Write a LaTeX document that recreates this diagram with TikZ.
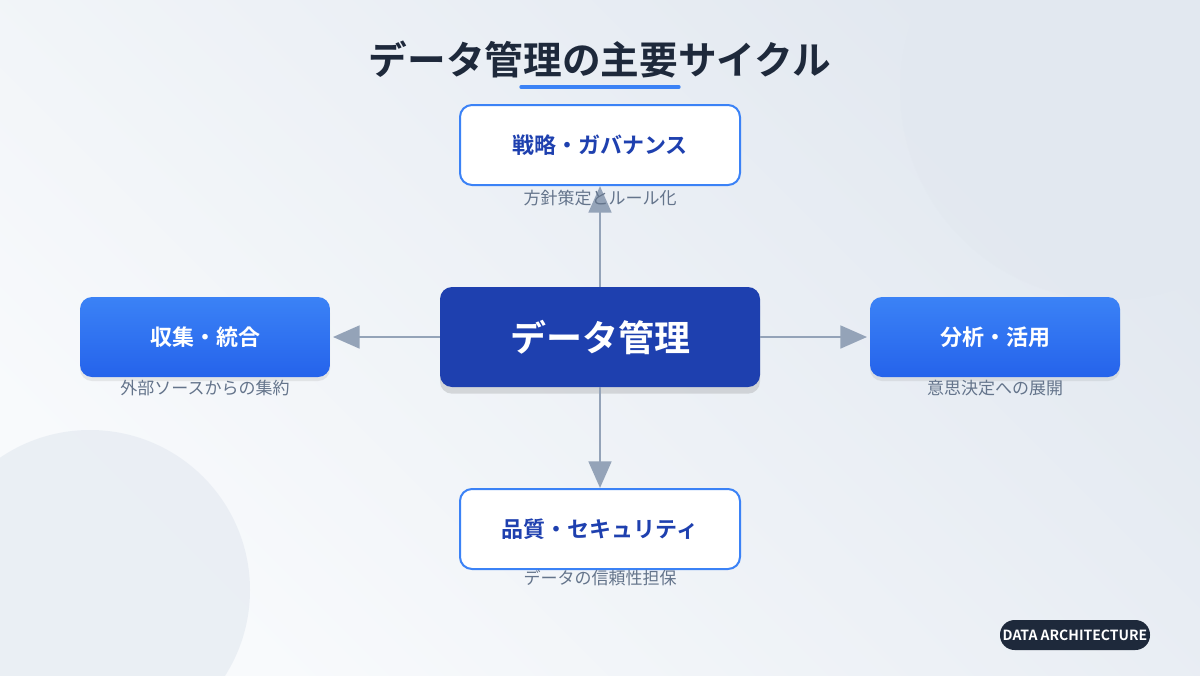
\documentclass[tikz,border=0pt]{standalone}
\usepackage{fontspec}
\setmainfont{Noto Sans CJK JP}
\newfontfamily\jpb{Noto Sans CJK JP Bold}
\usetikzlibrary{arrows.meta,shadows}
\definecolor{bgA}{HTML}{F8FAFC}
\definecolor{bgB}{HTML}{E2E8F0}
\definecolor{darkblue}{HTML}{1E40AF}
\definecolor{midblue}{HTML}{3B82F6}
\definecolor{deepblue}{HTML}{2563EB}
\definecolor{arrowgray}{HTML}{94A3B8}
\definecolor{capgray}{HTML}{64748B}
\definecolor{titlec}{HTML}{1E293B}
\tikzset{
  outerbox/.style={draw=midblue,line width=1.5pt,fill=white,rounded corners=9pt,minimum width=210pt,minimum height=60pt,text=darkblue,font=\jpb\fontsize{16.5}{20}\selectfont},
  sidebox/.style={rounded corners=9pt,top color=midblue,bottom color=deepblue,minimum width=187.5pt,minimum height=60pt,text=white,font=\jpb\fontsize{16.5}{20}\selectfont,drop shadow={opacity=0.15,shadow xshift=0pt,shadow yshift=-3pt}},
  centerbox/.style={rounded corners=9pt,fill=darkblue,minimum width=240pt,minimum height=75pt,text=white,font=\jpb\fontsize{27}{32}\selectfont,drop shadow={opacity=0.25,shadow xshift=0pt,shadow yshift=-5pt}},
  caption/.style={text=capgray,font=\fontsize{12.75}{15}\selectfont},
  conn/.style={draw=arrowgray,line width=2.2pt,-{Triangle[length=20pt,width=17pt]}}
}
\begin{document}
\begin{tikzpicture}[x=0.75pt,y=-0.75pt]
\useasboundingbox (0,0) rectangle (1200,675);
\shade[left color=bgA,right color=bgB,shading angle=135] (0,0) rectangle (1200,675);
\fill[bgB,opacity=0.5] (1110,90) circle (210);
\fill[bgB,opacity=0.6] (90,590) circle (160);
\node[text=titlec,font=\jpb\fontsize{29}{34}\selectfont] (title) at (600,60) {データ管理の主要サイクル};
\draw[midblue,line width=2.5pt,line cap=round] (521,87) -- (679,87);
\node[centerbox] (c) at (600,337) {データ管理};
\node[outerbox] (top) at (600,145) {戦略・ガバナンス};
\node[outerbox] (bot) at (600,529) {品質・セキュリティ};
\node[sidebox] (l) at (205,337) {収集・統合};
\node[sidebox] (r) at (995,337) {分析・活用};
\draw[conn] (c.north) -- (top.south);
\draw[conn] (c.south) -- (bot.north);
\draw[conn] (c.west) -- ([xshift=2]l.east);
\draw[conn] (c.east) -- ([xshift=-2]r.west);
\node[caption] (tc) at (600,198) {方針策定とルール化};
\node[caption] (bc) at (600,578) {データの信頼性担保};
\node[caption] (lc) at (205,388) {外部ソースからの集約};
\node[caption] (rc) at (995,388) {意思決定への展開};
\node[fill=titlec,rounded corners=11pt,minimum width=112.5pt,minimum height=22.5pt,inner sep=0pt,text=white,font=\jpb\fontsize{10.5}{12}\selectfont] (badge) at (1075,635) {DATA ARCHITECTURE};
\end{tikzpicture}
\end{document}
